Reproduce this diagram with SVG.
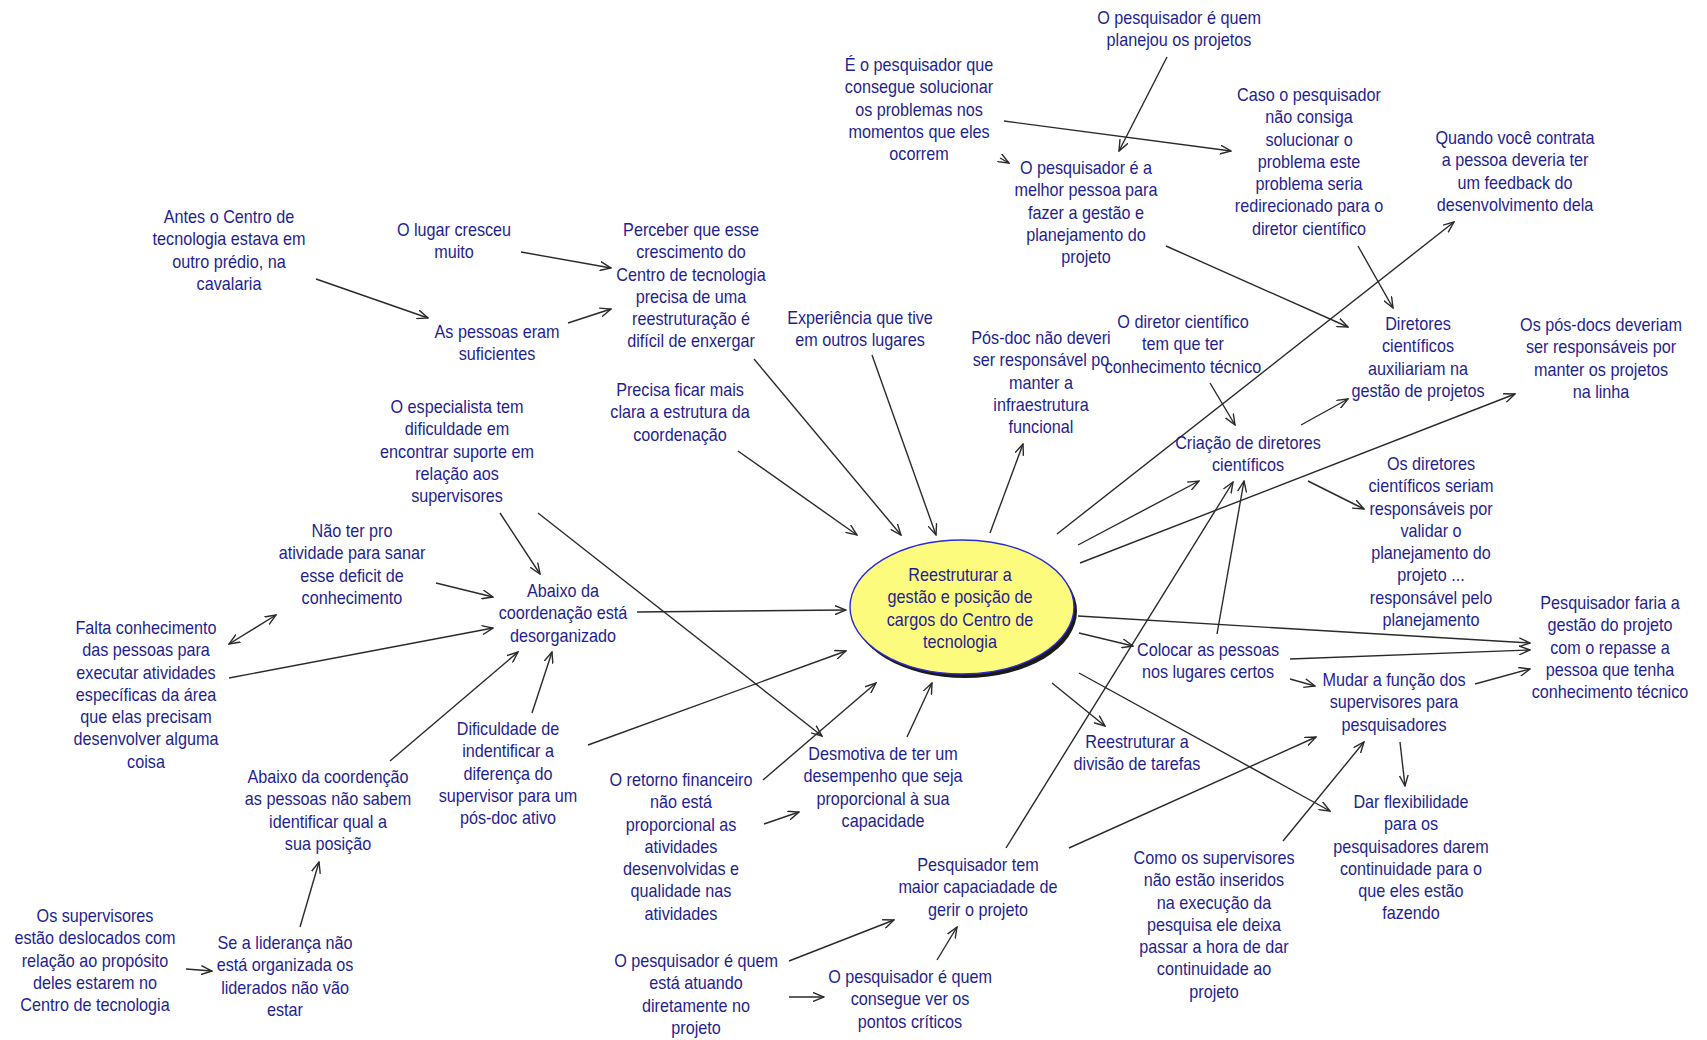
<svg xmlns="http://www.w3.org/2000/svg" width="1707" height="1040" viewBox="0 0 1707 1040">
<style>
.t{font-family:"Liberation Sans",Arial,sans-serif;font-size:18.5px;fill:#1f1f8f;text-anchor:middle}
.c{fill:none;stroke:#2a2a2a;stroke-width:1.4;marker-end:url(#ah)}
.d{marker-start:url(#ah)}
</style>
<defs>
<marker id="ah" viewBox="0 0 12 10" refX="11" refY="5" markerWidth="12" markerHeight="10" markerUnits="userSpaceOnUse" orient="auto-start-reverse">
<path d="M0,0.5 L11,5 L0,9.5" fill="none" stroke="#2a2a2a" stroke-width="1.4"/>
</marker>
</defs>
<rect width="1707" height="1040" fill="#ffffff"/>

<g id="connectors">
<line class="c" x1="316" y1="279" x2="428" y2="318"/>
<line class="c" x1="521" y1="252" x2="611" y2="268"/>
<line class="c" x1="568" y1="323" x2="611" y2="309"/>
<line class="c" x1="1004" y1="121" x2="1231" y2="151"/>
<line class="c" x1="1167" y1="57" x2="1119" y2="151"/>
<line class="c" x1="1000" y1="158" x2="1009" y2="163"/>
<line class="c" x1="1166" y1="246" x2="1348" y2="327"/>
<line class="c" x1="1358" y1="246" x2="1393" y2="308"/>
<line class="c" x1="1057" y1="534" x2="1454" y2="222"/>
<line class="c" x1="1210" y1="383" x2="1235" y2="425"/>
<line class="c" x1="1301" y1="425" x2="1348" y2="399"/>
<line class="c" x1="1080" y1="563" x2="1515" y2="394"/>
<line class="c" x1="1078" y1="545" x2="1199" y2="481"/>
<line class="c" x1="1308" y1="481" x2="1364" y2="509"/>
<line class="c" x1="1217" y1="634" x2="1244" y2="481"/>
<line class="c" x1="1006" y1="848" x2="1233" y2="482"/>
<line class="c" x1="1078" y1="616" x2="1530" y2="643"/>
<line class="c" x1="1290" y1="659" x2="1530" y2="650"/>
<line class="c" x1="1475" y1="684" x2="1530" y2="669"/>
<line class="c" x1="1079" y1="633" x2="1133" y2="646"/>
<line class="c" x1="1290" y1="679" x2="1315" y2="686"/>
<line class="c" x1="1052" y1="683" x2="1105" y2="726"/>
<line class="c" x1="1079" y1="673" x2="1330" y2="811"/>
<line class="c" x1="1069" y1="848" x2="1316" y2="737"/>
<line class="c" x1="1283" y1="841" x2="1364" y2="742"/>
<line class="c" x1="1400" y1="742" x2="1405" y2="786"/>
<line class="c" x1="637" y1="612" x2="846" y2="610"/>
<line class="c" x1="588" y1="745" x2="846" y2="651"/>
<line class="c" x1="763" y1="780" x2="876" y2="683"/>
<line class="c" x1="764" y1="824" x2="799" y2="812"/>
<line class="c" x1="907" y1="737" x2="932" y2="683"/>
<line class="c" x1="538" y1="513" x2="822" y2="736"/>
<line class="c" x1="500" y1="513" x2="540" y2="574"/>
<line class="c" x1="436" y1="583" x2="493" y2="597"/>
<line class="c" x1="229" y1="678" x2="493" y2="628"/>
<line class="c d" x1="229" y1="644" x2="276" y2="615"/>
<line class="c" x1="390" y1="761" x2="518" y2="652"/>
<line class="c" x1="532" y1="713" x2="552" y2="652"/>
<line class="c" x1="300" y1="927" x2="319" y2="862"/>
<line class="c" x1="186" y1="969" x2="212" y2="971"/>
<line class="c" x1="738" y1="451" x2="857" y2="535"/>
<line class="c" x1="754" y1="359" x2="901" y2="535"/>
<line class="c" x1="872" y1="355" x2="936" y2="535"/>
<line class="c" x1="990" y1="533" x2="1023" y2="444"/>
<line class="c" x1="789" y1="961" x2="894" y2="920"/>
<line class="c" x1="789" y1="997" x2="824" y2="997"/>
<line class="c" x1="937" y1="960" x2="957" y2="927"/>
</g>

<g id="center">
<ellipse cx="965" cy="611" rx="112" ry="67" fill="#1a1a1a"/>
<ellipse cx="962" cy="607" rx="112" ry="67" fill="#fdfb7e" stroke="#2b2bd0" stroke-width="1.4"/>
<text class="t" transform="translate(960,0) scale(0.875,1)"><tspan x="0" y="581">Reestruturar a</tspan><tspan x="0" y="603.3">gestão e posição de</tspan><tspan x="0" y="625.6">cargos do Centro de</tspan><tspan x="0" y="647.9">tecnologia</tspan></text>
</g>

<g id="n1"><text class="t" transform="translate(1179,0) scale(0.875,1)"><tspan x="0" y="24">O pesquisador é quem</tspan><tspan x="0" y="46.3">planejou os projetos</tspan></text></g>
<g id="n2"><text class="t" transform="translate(919,0) scale(0.875,1)"><tspan x="0" y="71">É o pesquisador que</tspan><tspan x="0" y="93.3">consegue solucionar</tspan><tspan x="0" y="115.6">os problemas nos</tspan><tspan x="0" y="137.9">momentos que eles</tspan><tspan x="0" y="160.2">ocorrem</tspan></text></g>
<g id="n3"><text class="t" transform="translate(1086,0) scale(0.875,1)"><tspan x="0" y="174">O pesquisador é a</tspan><tspan x="0" y="196.3">melhor pessoa para</tspan><tspan x="0" y="218.6">fazer a gestão e</tspan><tspan x="0" y="240.9">planejamento do</tspan><tspan x="0" y="263.2">projeto</tspan></text></g>
<g id="n4"><text class="t" transform="translate(1309,0) scale(0.875,1)"><tspan x="0" y="101">Caso o pesquisador</tspan><tspan x="0" y="123.3">não consiga</tspan><tspan x="0" y="145.6">solucionar o</tspan><tspan x="0" y="167.9">problema este</tspan><tspan x="0" y="190.2">problema seria</tspan><tspan x="0" y="212.5">redirecionado para o</tspan><tspan x="0" y="234.8">diretor científico</tspan></text></g>
<g id="n5"><text class="t" transform="translate(1515,0) scale(0.875,1)"><tspan x="0" y="144">Quando você contrata</tspan><tspan x="0" y="166.3">a pessoa deveria ter</tspan><tspan x="0" y="188.6">um feedback do</tspan><tspan x="0" y="210.9">desenvolvimento dela</tspan></text></g>
<g id="n6"><text class="t" transform="translate(229,0) scale(0.875,1)"><tspan x="0" y="223">Antes o Centro de</tspan><tspan x="0" y="245.3">tecnologia estava em</tspan><tspan x="0" y="267.6">outro prédio, na</tspan><tspan x="0" y="289.9">cavalaria</tspan></text></g>
<g id="n7"><text class="t" transform="translate(454,0) scale(0.875,1)"><tspan x="0" y="236">O lugar cresceu</tspan><tspan x="0" y="258.3">muito</tspan></text></g>
<g id="n8"><text class="t" transform="translate(497,0) scale(0.875,1)"><tspan x="0" y="338">As pessoas eram</tspan><tspan x="0" y="360.3">suficientes</tspan></text></g>
<g id="n9"><text class="t" transform="translate(691,0) scale(0.875,1)"><tspan x="0" y="236">Perceber que esse</tspan><tspan x="0" y="258.3">crescimento do</tspan><tspan x="0" y="280.6">Centro de tecnologia</tspan><tspan x="0" y="302.9">precisa de uma</tspan><tspan x="0" y="325.2">reestruturação é</tspan><tspan x="0" y="347.5">difícil de enxergar</tspan></text></g>
<g id="n10"><text class="t" transform="translate(860,0) scale(0.875,1)"><tspan x="0" y="324">Experiência que tive</tspan><tspan x="0" y="346.3">em outros lugares</tspan></text></g>
<g id="n11"><text class="t" transform="translate(1041,0) scale(0.875,1)"><tspan x="0" y="344">Pós-doc não deveri</tspan><tspan x="0" y="366.3">ser responsável po</tspan><tspan x="0" y="388.6">manter a</tspan><tspan x="0" y="410.9">infraestrutura</tspan><tspan x="0" y="433.2">funcional</tspan></text></g>
<g id="n12"><text class="t" transform="translate(1183,0) scale(0.875,1)"><tspan x="0" y="328">O diretor científico</tspan><tspan x="0" y="350.3">tem que ter</tspan><tspan x="0" y="372.6">conhecimento técnico</tspan></text></g>
<g id="n13"><text class="t" transform="translate(1418,0) scale(0.875,1)"><tspan x="0" y="330">Diretores</tspan><tspan x="0" y="352.3">científicos</tspan><tspan x="0" y="374.6">auxiliariam na</tspan><tspan x="0" y="396.9">gestão de projetos</tspan></text></g>
<g id="n14"><text class="t" transform="translate(1601,0) scale(0.875,1)"><tspan x="0" y="331">Os pós-docs deveriam</tspan><tspan x="0" y="353.3">ser responsáveis por</tspan><tspan x="0" y="375.6">manter os projetos</tspan><tspan x="0" y="397.9">na linha</tspan></text></g>
<g id="n15"><text class="t" transform="translate(1248,0) scale(0.875,1)"><tspan x="0" y="449">Criação de diretores</tspan><tspan x="0" y="471.3">científicos</tspan></text></g>
<g id="n16"><text class="t" transform="translate(1431,0) scale(0.875,1)"><tspan x="0" y="470">Os diretores</tspan><tspan x="0" y="492.3">científicos seriam</tspan><tspan x="0" y="514.6">responsáveis por</tspan><tspan x="0" y="536.9">validar o</tspan><tspan x="0" y="559.2">planejamento do</tspan><tspan x="0" y="581.5">projeto ...</tspan><tspan x="0" y="603.8">responsável pelo</tspan><tspan x="0" y="626.1">planejamento</tspan></text></g>
<g id="n17"><text class="t" transform="translate(1610,0) scale(0.875,1)"><tspan x="0" y="609">Pesquisador faria a</tspan><tspan x="0" y="631.3">gestão do projeto</tspan><tspan x="0" y="653.6">com o repasse a</tspan><tspan x="0" y="675.9">pessoa que tenha</tspan><tspan x="0" y="698.2">conhecimento técnico</tspan></text></g>
<g id="n18"><text class="t" transform="translate(1208,0) scale(0.875,1)"><tspan x="0" y="656">Colocar as pessoas</tspan><tspan x="0" y="678.3">nos lugares certos</tspan></text></g>
<g id="n19"><text class="t" transform="translate(1394,0) scale(0.875,1)"><tspan x="0" y="686">Mudar a função dos</tspan><tspan x="0" y="708.3">supervisores para</tspan><tspan x="0" y="730.6">pesquisadores</tspan></text></g>
<g id="n20"><text class="t" transform="translate(1137,0) scale(0.875,1)"><tspan x="0" y="748">Reestruturar a</tspan><tspan x="0" y="770.3">divisão de tarefas</tspan></text></g>
<g id="n21"><text class="t" transform="translate(1411,0) scale(0.875,1)"><tspan x="0" y="808">Dar flexibilidade</tspan><tspan x="0" y="830.3">para os</tspan><tspan x="0" y="852.6">pesquisadores darem</tspan><tspan x="0" y="874.9">continuidade para o</tspan><tspan x="0" y="897.2">que eles estão</tspan><tspan x="0" y="919.5">fazendo</tspan></text></g>
<g id="n22"><text class="t" transform="translate(1214,0) scale(0.875,1)"><tspan x="0" y="864">Como os supervisores</tspan><tspan x="0" y="886.3">não estão inseridos</tspan><tspan x="0" y="908.6">na execução da</tspan><tspan x="0" y="930.9">pesquisa ele deixa</tspan><tspan x="0" y="953.2">passar a hora de dar</tspan><tspan x="0" y="975.5">continuidade ao</tspan><tspan x="0" y="997.8">projeto</tspan></text></g>
<g id="n23"><text class="t" transform="translate(978,0) scale(0.875,1)"><tspan x="0" y="871">Pesquisador tem</tspan><tspan x="0" y="893.3">maior capaciadade de</tspan><tspan x="0" y="915.6">gerir o projeto</tspan></text></g>
<g id="n24"><text class="t" transform="translate(910,0) scale(0.875,1)"><tspan x="0" y="983">O pesquisador é quem</tspan><tspan x="0" y="1005.3">consegue ver os</tspan><tspan x="0" y="1027.6">pontos críticos</tspan></text></g>
<g id="n25"><text class="t" transform="translate(696,0) scale(0.875,1)"><tspan x="0" y="967">O pesquisador é quem</tspan><tspan x="0" y="989.3">está atuando</tspan><tspan x="0" y="1011.6">diretamente no</tspan><tspan x="0" y="1033.9">projeto</tspan></text></g>
<g id="n26"><text class="t" transform="translate(883,0) scale(0.875,1)"><tspan x="0" y="760">Desmotiva de ter um</tspan><tspan x="0" y="782.3">desempenho que seja</tspan><tspan x="0" y="804.6">proporcional à sua</tspan><tspan x="0" y="826.9">capacidade</tspan></text></g>
<g id="n27"><text class="t" transform="translate(681,0) scale(0.875,1)"><tspan x="0" y="786">O retorno financeiro</tspan><tspan x="0" y="808.3">não está</tspan><tspan x="0" y="830.6">proporcional as</tspan><tspan x="0" y="852.9">atividades</tspan><tspan x="0" y="875.2">desenvolvidas e</tspan><tspan x="0" y="897.5">qualidade nas</tspan><tspan x="0" y="919.8">atividades</tspan></text></g>
<g id="n28"><text class="t" transform="translate(563,0) scale(0.875,1)"><tspan x="0" y="597">Abaixo da</tspan><tspan x="0" y="619.3">coordenação está</tspan><tspan x="0" y="641.6">desorganizado</tspan></text></g>
<g id="n29"><text class="t" transform="translate(508,0) scale(0.875,1)"><tspan x="0" y="735">Dificuldade de</tspan><tspan x="0" y="757.3">indentificar a</tspan><tspan x="0" y="779.6">diferença do</tspan><tspan x="0" y="801.9">supervisor para um</tspan><tspan x="0" y="824.2">pós-doc ativo</tspan></text></g>
<g id="n30"><text class="t" transform="translate(457,0) scale(0.875,1)"><tspan x="0" y="413">O especialista tem</tspan><tspan x="0" y="435.3">dificuldade em</tspan><tspan x="0" y="457.6">encontrar suporte em</tspan><tspan x="0" y="479.9">relação aos</tspan><tspan x="0" y="502.2">supervisores</tspan></text></g>
<g id="n31"><text class="t" transform="translate(680,0) scale(0.875,1)"><tspan x="0" y="396">Precisa ficar mais</tspan><tspan x="0" y="418.3">clara a estrutura da</tspan><tspan x="0" y="440.6">coordenação</tspan></text></g>
<g id="n32"><text class="t" transform="translate(352,0) scale(0.875,1)"><tspan x="0" y="537">Não ter pro</tspan><tspan x="0" y="559.3">atividade para sanar</tspan><tspan x="0" y="581.6">esse deficit de</tspan><tspan x="0" y="603.9">conhecimento</tspan></text></g>
<g id="n33"><text class="t" transform="translate(146,0) scale(0.875,1)"><tspan x="0" y="634">Falta conhecimento</tspan><tspan x="0" y="656.3">das pessoas para</tspan><tspan x="0" y="678.6">executar atividades</tspan><tspan x="0" y="700.9">específicas da área</tspan><tspan x="0" y="723.2">que elas precisam</tspan><tspan x="0" y="745.5">desenvolver alguma</tspan><tspan x="0" y="767.8">coisa</tspan></text></g>
<g id="n34"><text class="t" transform="translate(328,0) scale(0.875,1)"><tspan x="0" y="783">Abaixo da coordenção</tspan><tspan x="0" y="805.3">as pessoas não sabem</tspan><tspan x="0" y="827.6">identificar qual a</tspan><tspan x="0" y="849.9">sua posição</tspan></text></g>
<g id="n35"><text class="t" transform="translate(95,0) scale(0.875,1)"><tspan x="0" y="922">Os supervisores</tspan><tspan x="0" y="944.3">estão deslocados com</tspan><tspan x="0" y="966.6">relação ao propósito</tspan><tspan x="0" y="988.9">deles estarem no</tspan><tspan x="0" y="1011.2">Centro de tecnologia</tspan></text></g>
<g id="n36"><text class="t" transform="translate(285,0) scale(0.875,1)"><tspan x="0" y="949">Se a liderança não</tspan><tspan x="0" y="971.3">está organizada os</tspan><tspan x="0" y="993.6">liderados não vão</tspan><tspan x="0" y="1015.9">estar</tspan></text></g>
</svg>
